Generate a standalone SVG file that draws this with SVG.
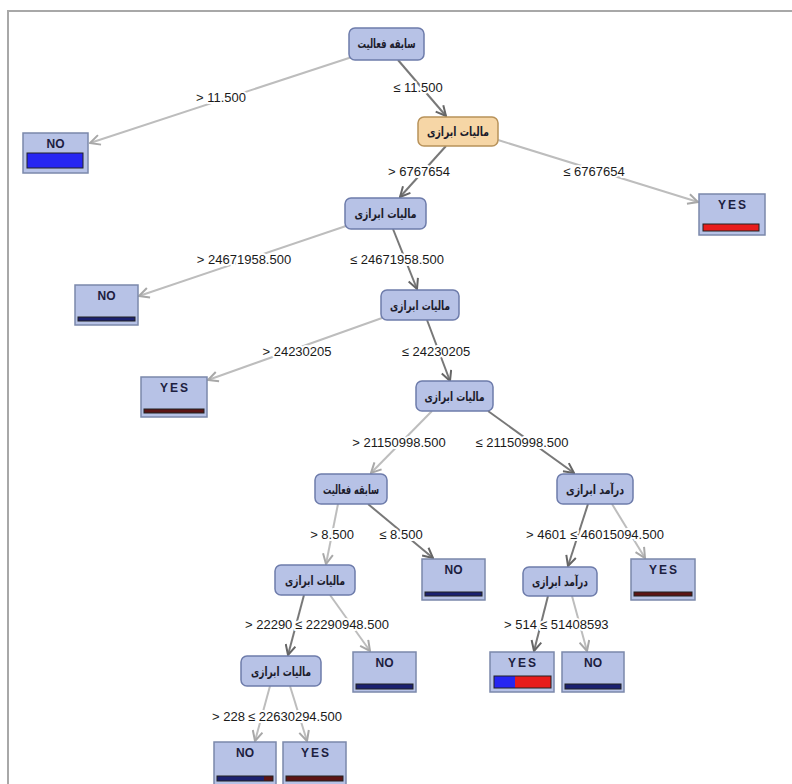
<svg xmlns="http://www.w3.org/2000/svg" width="792" height="784" viewBox="0 0 792 784">
<style>
.frame{fill:none;stroke:#a8a8a8;stroke-width:2}
.node rect{fill:#b7c2e6;stroke:#6e7cab;stroke-width:1.5}
.node.root rect{fill:#f6d6a6;stroke:#b8925a}
.node text{font-family:"DejaVu Sans",sans-serif;font-size:12.5px;font-weight:bold;fill:#1c1c2c;text-anchor:middle}
.leaf .box{fill:#b7c2e6;stroke:#7b88ab;stroke-width:1.5}
.leaf text{font-family:"Liberation Sans",Arial,sans-serif;font-size:12px;font-weight:bold;fill:#1c2040;text-anchor:middle}
.leaf .yes{letter-spacing:2px}
.bar{stroke:#222;stroke-width:1}
.navy{fill:#1b2170}
.maroon{fill:#5c1414}
.blue{fill:#2626f2}
.red{fill:#e81c1c}
.e{fill:none;stroke-width:2}
.lt{stroke:#bdbdbd;marker-end:url(#ah-lt)}
.dk{stroke:#787878;marker-end:url(#ah-dk)}
.lbl{font-family:"Liberation Sans",Arial,sans-serif;font-size:13px;fill:#1a1a1a;stroke:#ffffff;stroke-width:4px;paint-order:stroke;stroke-linejoin:round}
.mid{text-anchor:middle}
</style>
<defs>
<marker id="ah-lt" viewBox="0 0 12 12" refX="11" refY="6" markerWidth="12" markerHeight="12" markerUnits="userSpaceOnUse" orient="auto">
<path d="M1,1 L11,6 L1,11" fill="none" stroke="#a8a8a8" stroke-width="2"/>
</marker>
<marker id="ah-dk" viewBox="0 0 12 12" refX="11" refY="6" markerWidth="12" markerHeight="12" markerUnits="userSpaceOnUse" orient="auto">
<path d="M1,1 L11,6 L1,11" fill="none" stroke="#666666" stroke-width="2"/>
</marker>
</defs>
<rect width="792" height="784" fill="#ffffff"/>
<path class="frame" d="M8,784 V11 H792"/>

<g id="connectors">
<line class="e lt" x1="352" y1="57" x2="90" y2="143"/>
<line class="e dk" x1="398" y1="60" x2="446" y2="116"/>
<line class="e dk" x1="446" y1="146" x2="400" y2="197"/>
<line class="e lt" x1="498" y1="140" x2="698" y2="202"/>
<line class="e lt" x1="346" y1="226" x2="139" y2="296"/>
<line class="e dk" x1="393" y1="229" x2="417" y2="289"/>
<line class="e lt" x1="382" y1="318" x2="208" y2="380"/>
<line class="e dk" x1="427" y1="320" x2="450" y2="381"/>
<line class="e lt" x1="432" y1="411" x2="371" y2="473"/>
<line class="e dk" x1="488" y1="411" x2="574" y2="473"/>
<line class="e lt" x1="338" y1="504" x2="326" y2="564"/>
<line class="e dk" x1="368" y1="504" x2="433" y2="558"/>
<line class="e dk" x1="588" y1="504" x2="568" y2="566"/>
<line class="e lt" x1="612" y1="504" x2="645" y2="558"/>
<line class="e dk" x1="304" y1="595" x2="288" y2="655"/>
<line class="e lt" x1="330" y1="595" x2="370" y2="651"/>
<line class="e dk" x1="548" y1="596" x2="534" y2="651"/>
<line class="e lt" x1="572" y1="596" x2="587" y2="651"/>
<line class="e lt" x1="270" y1="686" x2="255" y2="741"/>
<line class="e lt" x1="290" y1="686" x2="307" y2="741"/>

<text class="lbl mid" x="221" y="102">&gt; 11.500</text>
<text class="lbl mid" x="418" y="92">≤ 11.500</text>
<text class="lbl mid" x="419" y="176">&gt; 6767654</text>
<text class="lbl mid" x="594" y="176">≤ 6767654</text>
<text class="lbl mid" x="244" y="264">&gt; 24671958.500</text>
<text class="lbl mid" x="397" y="264">≤ 24671958.500</text>
<text class="lbl mid" x="297" y="356">&gt; 24230205</text>
<text class="lbl mid" x="436" y="356">≤ 24230205</text>
<text class="lbl mid" x="399" y="447">&gt; 21150998.500</text>
<text class="lbl mid" x="522" y="447">≤ 21150998.500</text>
<text class="lbl mid" x="332" y="539">&gt; 8.500</text>
<text class="lbl mid" x="401" y="539">≤ 8.500</text>
<text class="lbl" x="526" y="539">&gt; 4601</text>
<text class="lbl" x="570" y="539">≤ 46015094.500</text>
<text class="lbl" x="245" y="629">&gt; 22290</text>
<text class="lbl" x="295" y="629">≤ 22290948.500</text>
<text class="lbl" x="504" y="629">&gt; 514</text>
<text class="lbl" x="540" y="629">≤ 51408593</text>
<text class="lbl" x="212" y="721">&gt; 228</text>
<text class="lbl" x="248" y="721">≤ 22630294.500</text>
</g>

<g id="n1" class="node"><rect x="349" y="28" width="75" height="32" rx="6"/><text x="386.5" y="48" textLength="58" lengthAdjust="spacingAndGlyphs">سابقه فعالیت</text></g>
<g id="n3" class="node root"><rect x="418" y="117" width="80" height="29" rx="6"/><text x="458" y="135.5" textLength="62" lengthAdjust="spacingAndGlyphs">مالیات ابرازی</text></g>
<g id="n5" class="node"><rect x="345" y="198" width="81" height="31" rx="6"/><text x="385.5" y="217.5" textLength="62" lengthAdjust="spacingAndGlyphs">مالیات ابرازی</text></g>
<g id="n7" class="node"><rect x="381" y="290" width="78" height="30" rx="6"/><text x="420" y="309.5" textLength="60" lengthAdjust="spacingAndGlyphs">مالیات ابرازی</text></g>
<g id="n9" class="node"><rect x="416" y="381" width="77" height="30" rx="6"/><text x="454.5" y="400.5" textLength="60" lengthAdjust="spacingAndGlyphs">مالیات ابرازی</text></g>
<g id="n10" class="node"><rect x="315" y="474" width="72" height="30" rx="6"/><text x="351" y="493.5" textLength="56" lengthAdjust="spacingAndGlyphs">سابقه فعالیت</text></g>
<g id="n11" class="node"><rect x="557" y="474" width="76" height="30" rx="6"/><text x="595" y="493.5" textLength="58" lengthAdjust="spacingAndGlyphs">درآمد ابرازی</text></g>
<g id="n12" class="node"><rect x="275" y="565" width="80" height="30" rx="6"/><text x="315" y="584.5" textLength="60" lengthAdjust="spacingAndGlyphs">مالیات ابرازی</text></g>
<g id="n14" class="node"><rect x="523" y="567" width="74" height="29" rx="6"/><text x="560" y="585.5" textLength="56" lengthAdjust="spacingAndGlyphs">درآمد ابرازی</text></g>
<g id="n16" class="node"><rect x="241" y="656" width="80" height="30" rx="6"/><text x="281" y="675.5" textLength="60" lengthAdjust="spacingAndGlyphs">مالیات ابرازی</text></g>

<g id="l2" class="leaf"><rect class="box" x="23" y="133" width="65" height="40"/><text x="55.5" y="148">NO</text><rect class="bar blue" x="27" y="153" width="56" height="15"/></g>
<g id="l4" class="leaf"><rect class="box" x="699" y="194" width="66" height="41"/><text class="yes" x="733" y="209">YES</text><rect class="bar red" x="703" y="224" width="56" height="7"/></g>
<g id="l6" class="leaf"><rect class="box" x="75" y="285" width="63" height="40"/><text x="106.5" y="300">NO</text><rect class="bar navy" x="78" y="317" width="57" height="4"/></g>
<g id="l8" class="leaf"><rect class="box" x="141" y="377" width="66" height="40"/><text class="yes" x="175" y="392">YES</text><rect class="bar maroon" x="144" y="409" width="60" height="4"/></g>
<g id="l13" class="leaf"><rect class="box" x="422" y="559" width="63" height="41"/><text x="453.5" y="574">NO</text><rect class="bar navy" x="425" y="592" width="57" height="4"/></g>
<g id="l15" class="leaf"><rect class="box" x="631" y="559" width="64" height="41"/><text class="yes" x="664" y="574">YES</text><rect class="bar maroon" x="634" y="592" width="58" height="4"/></g>
<g id="l17" class="leaf"><rect class="box" x="353" y="652" width="63" height="40"/><text x="384.5" y="667">NO</text><rect class="bar navy" x="356" y="684" width="57" height="5"/></g>
<g id="l18" class="leaf"><rect class="box" x="490" y="652" width="64" height="40"/><text class="yes" x="523" y="667">YES</text><rect class="blue" x="494" y="676" width="21" height="12"/><rect class="red" x="515" y="676" width="36" height="12"/><rect x="494" y="676" width="57" height="12" fill="none" stroke="#222" stroke-width="1"/></g>
<g id="l19" class="leaf"><rect class="box" x="562" y="652" width="62" height="40"/><text x="593" y="667">NO</text><rect class="bar navy" x="565" y="684" width="56" height="5"/></g>
<g id="l20" class="leaf"><rect class="box" x="214" y="742" width="62" height="44"/><text x="245" y="757">NO</text><rect class="navy" x="217" y="776" width="47" height="5"/><rect class="maroon" x="264" y="776" width="9" height="5"/><rect x="217" y="776" width="56" height="5" fill="none" stroke="#222" stroke-width="1"/></g>
<g id="l21" class="leaf"><rect class="box" x="283" y="742" width="63" height="44"/><text class="yes" x="316" y="757">YES</text><rect class="bar maroon" x="286" y="776" width="57" height="5"/></g>
</svg>
